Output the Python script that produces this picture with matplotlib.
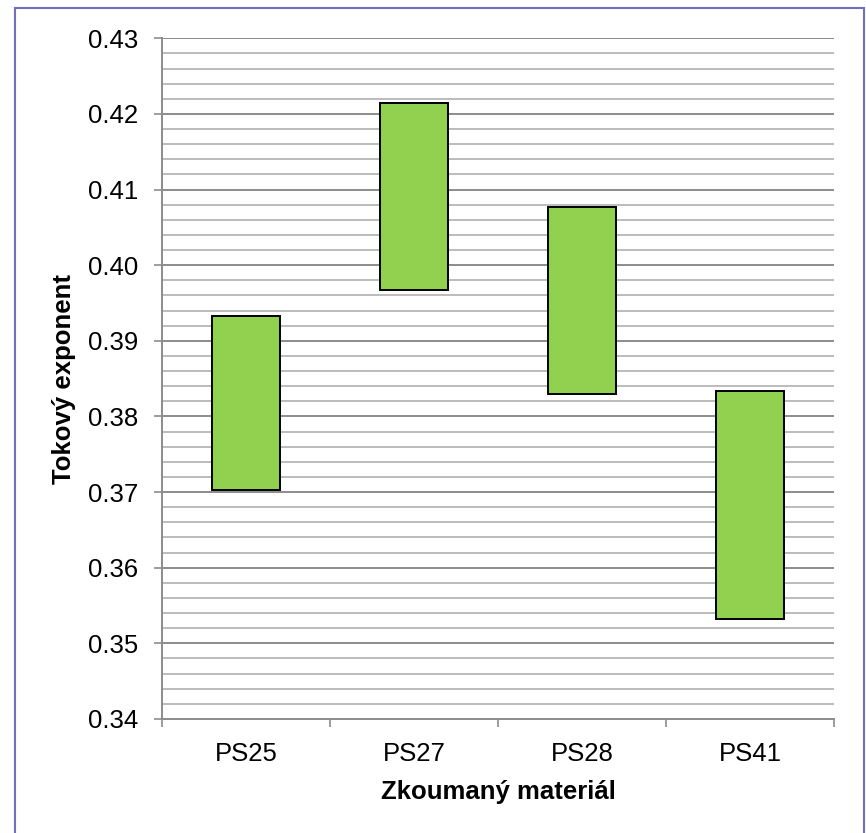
import matplotlib

matplotlib.use("Agg")
import matplotlib.pyplot as plt
from matplotlib.patches import Rectangle
from matplotlib.ticker import MultipleLocator, FixedLocator, NullFormatter

plt.rcParams["font.family"] = ["Liberation Sans", "DejaVu Sans"]

materials = ["PS25", "PS27", "PS28", "PS41"]
exp_low = [0.3703, 0.3967, 0.3830, 0.3532]
exp_high = [0.3933, 0.4214, 0.4077, 0.3834]

fig = plt.figure(figsize=(8.66, 8.33), dpi=100)
ax = fig.add_axes([0.187, 0.137, 0.776, 0.817])

# outer chart frame
fig.patches.append(Rectangle((15 / 866, -0.05), (864 - 15) / 866, 1.05 - 8 / 833,
                             transform=fig.transFigure, fill=False,
                             edgecolor="#7070c0", linewidth=1.5))

x = range(len(materials))
heights = [h - l for l, h in zip(exp_low, exp_high)]
ax.bar(x, heights, bottom=exp_low, width=0.4, color="#92D050",
       edgecolor="black", linewidth=1.4, zorder=3)

ax.set_xlim(-0.5, len(materials) - 0.5)
ax.set_ylim(0.34, 0.43)
ax.yaxis.set_major_locator(MultipleLocator(0.01))
ax.yaxis.set_minor_locator(MultipleLocator(0.002))
ax.yaxis.set_major_formatter(plt.FuncFormatter(lambda v, _: f"{v:.2f}"))
ax.grid(axis="y", which="major", color="#8c8c8c", linewidth=1.4, zorder=0)
ax.grid(axis="y", which="minor", color="#bcbcbc", linewidth=1.4, zorder=0)

# category boundaries get tick marks, names sit between them
ax.xaxis.set_major_locator(FixedLocator([i - 0.5 for i in range(len(materials) + 1)]))
ax.xaxis.set_major_formatter(NullFormatter())
ax.xaxis.set_minor_locator(FixedLocator(list(x)))
ax.set_xticklabels(materials, minor=True)
ax.tick_params(axis="x", which="major", length=6, width=1.2, color="#8c8c8c")
ax.tick_params(axis="x", which="minor", length=0, pad=17, labelsize=18.5)
ax.tick_params(axis="y", which="major", length=6, width=1.2, color="#8c8c8c",
               pad=11, labelsize=18.5)
ax.tick_params(axis="y", which="minor", length=0)

for side in ("top", "right"):
    ax.spines[side].set_visible(False)
for side in ("left", "bottom"):
    ax.spines[side].set_color("#8c8c8c")
    ax.spines[side].set_linewidth(1.4)

ax.set_xlabel("Zkoumaný materiál", fontsize=18.5, fontweight="bold")
ax.set_ylabel("Tokový exponent", fontsize=18.5, fontweight="bold")
ax.xaxis.set_label_coords(0.5, -0.09)
ax.yaxis.set_label_coords(-0.145, 0.5)
ax.yaxis.label.set_verticalalignment("center")

fig.savefig("out.png", dpi=100, facecolor="white")
